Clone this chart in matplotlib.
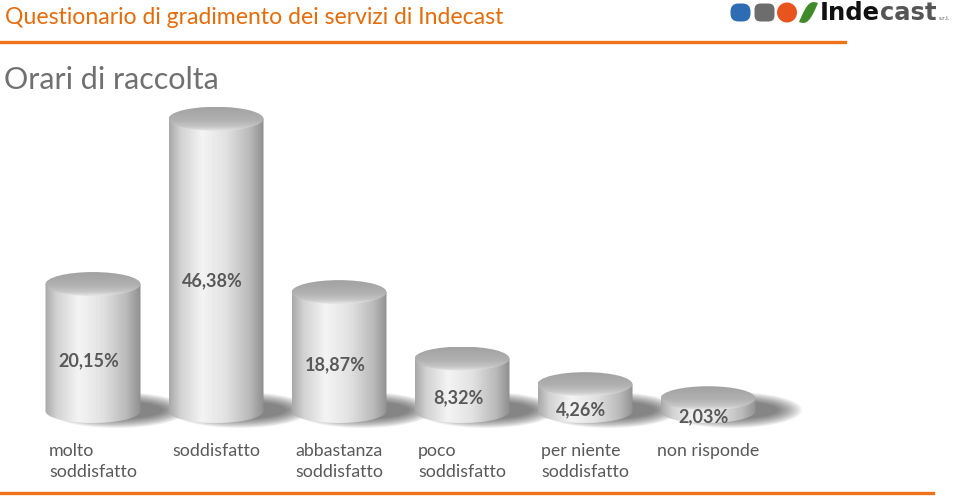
import matplotlib
matplotlib.use('Agg')
import matplotlib.pyplot as plt
import numpy as np
from matplotlib.colors import LinearSegmentedColormap
from matplotlib.patches import Ellipse, Polygon, FancyBboxPatch, Circle
from matplotlib.lines import Line2D

# Data
categories = ['molto\nsoddisfatto', 'soddisfatto', 'abbastanza\nsoddisfatto',
              'poco\nsoddisfatto', 'per niente\nsoddisfatto', 'non risponde']
values = [20.15, 46.38, 18.87, 8.32, 4.26, 2.03]
value_labels = ['20,15%', '46,38%', '18,87%', '8,32%', '4,26%', '2,03%']

title = 'Questionario di gradimento dei servizi di Indecast'
subtitle = 'Orari di raccolta'

ORANGE_TXT = '#E46C0A'
ORANGE_LN = '#EE7219'
GRAY_TXT = '#595959'

plt.rcParams['font.family'] = ['Lato', 'DejaVu Sans']

W, H = 959, 499
fig = plt.figure(figsize=(W / 100, H / 100), dpi=100)
fig.patch.set_facecolor('white')

# chart axes in pixel layout
step_px = 123.0
x0_px = 93.0
base_px = 411.0      # from top
top_px = 95.0
px_per_pct = 6.3
ax = fig.add_axes([0, (H - base_px) / H, 1, (base_px - top_px) / H])
ax.axis('off')

ux = 1.0 / step_px
uy = 1.0 / px_per_pct
hw = 47.5 * ux        # cylinder half width
eh = 12.0 * uy        # ellipse half height

body_cmap = LinearSegmentedColormap.from_list('body', [
    (0.0, '#a8a8a8'), (0.12, '#d2d2d2'), (0.35, '#f4f4f4'),
    (0.6, '#e2e2e2'), (0.85, '#bababa'), (1.0, '#8e8e8e')])
top_cmap = LinearSegmentedColormap.from_list('top', [
    (0.0, '#a2a2a2'), (0.55, '#b0b0b0'), (0.82, '#c6c6c6'), (1.0, '#e6e6e6')])

grad_h = np.linspace(0, 1, 256).reshape(1, -1)
grad_v = np.linspace(0, 1, 256).reshape(-1, 1)

x = np.arange(len(categories))


def clip_to(artist, patch):
    artist.set_clip_on(True)
    artist.set_clip_box(fig.bbox)
    artist.set_clip_path(patch)


# soft shadows behind the bases, thrown to the right
for xi in x:
    for k in range(14):
        f = 1 - k / 14.0
        sh = Ellipse((xi + 24 * ux, 1 * uy), 2 * (44 + 26 * f) * ux, 2 * (8 + 10 * f) * uy,
                     facecolor='#2a2a2a', edgecolor='none', alpha=0.055, zorder=1, clip_on=False)
        ax.add_patch(sh)

t = np.linspace(np.pi, 2 * np.pi, 60)
for xi, v in zip(x, values):
    # body: rectangle plus lower half-ellipse
    pts = [(xi - hw, v)]
    pts += list(zip(xi + hw * np.cos(t), eh * np.sin(t)))
    pts += [(xi + hw, v)]
    body = Polygon(pts, closed=True, facecolor='none', edgecolor='none', zorder=2)
    ax.add_patch(body)
    im = ax.imshow(grad_h, cmap=body_cmap, aspect='auto', zorder=2,
                   extent=[xi - hw, xi + hw, -eh, v], origin='lower')
    clip_to(im, body)

    # top ellipse
    top = Ellipse((xi, v), 2 * hw, 2 * eh, facecolor='none', edgecolor='none', zorder=3)
    ax.add_patch(top)
    im2 = ax.imshow(grad_v, cmap=top_cmap, aspect='auto', zorder=3,
                    extent=[xi - hw, xi + hw, v - eh, v + eh], origin='upper')
    clip_to(im2, top)

ax.set_xlim(-x0_px / step_px, (W - x0_px) / step_px)
ax.set_ylim(0, (base_px - top_px) / px_per_pct)

for xi, v, lab in zip(x, values, value_labels):
    ax.text(xi - 4 * ux, 0.487 * v - 1.9, lab, ha='center', va='center', fontsize=13,
            fontweight='bold', color=GRAY_TXT, zorder=5, clip_on=False)

for xi, cat in zip(x, categories):
    ax.annotate(cat, xy=(xi, H - 443), xycoords=('data', 'figure pixels'),
                ha='center', va='top', multialignment='left', fontsize=12.8,
                color=GRAY_TXT, linespacing=1.42, annotation_clip=False)

# header
fig.text(5 / W, 1 - 18 / H, title, ha='left', va='center', fontsize=16.6, color=ORANGE_TXT)
fig.add_artist(Line2D([0, 845 / W], [1 - 42 / H] * 2, color=ORANGE_LN, lw=2.4))
fig.text(4 / W, 1 - 80 / H, subtitle, ha='left', va='center', fontsize=22,
         fontweight='normal', color='#707070')
fig.add_artist(Line2D([0, 933 / W], [1 - 493 / H] * 2, color=ORANGE_LN, lw=2.4))

# logo
lax = fig.add_axes([726 / W, 1 - 27 / H, 233 / W, 27 / H])
lax.set_xlim(0, 233)
lax.set_ylim(27, 0)
lax.axis('off')
lax.add_patch(FancyBboxPatch((6, 5), 17, 15, boxstyle='round,pad=1.5,rounding_size=8',
                             facecolor='#2E6DB4', edgecolor='none'))
lax.add_patch(FancyBboxPatch((30, 5), 17, 15, boxstyle='round,pad=1.5,rounding_size=6',
                             facecolor='#6D6D6D', edgecolor='none'))
lax.add_patch(Circle((61, 12.5), 10, facecolor='#E8541E', edgecolor='none'))
s = np.linspace(0, 1, 30)
leaf = list(zip(73 + 19 * s, 22 - 19 * s - 8 * np.sin(np.pi * s))) + \
       list(zip(92 - 19 * s, 3 + 19 * s + 8 * np.sin(np.pi * s)))
lax.add_patch(Polygon(leaf, closed=True, facecolor='#3F8A2A', edgecolor='none'))

fig.canvas.draw()
r = fig.canvas.get_renderer()
t1 = fig.text(820 / W, 1 - 13 / H, 'Inde', ha='left', va='center', fontsize=17.5,
              fontweight='bold', color='#111111', family='DejaVu Sans')
bb = t1.get_window_extent(renderer=r)
t2 = fig.text(bb.x1 / W, 1 - 13 / H, 'cast', ha='left', va='center', fontsize=17.5,
              fontweight='bold', color='#555555', family='DejaVu Sans')
bb2 = t2.get_window_extent(renderer=r)
fig.text(bb2.x1 / W + 2 / W, 1 - 19 / H, 's.r.l.', ha='left', va='center', fontsize=4.5,
         color='#555555')

fig.savefig('out.png', dpi=100, facecolor='white')
